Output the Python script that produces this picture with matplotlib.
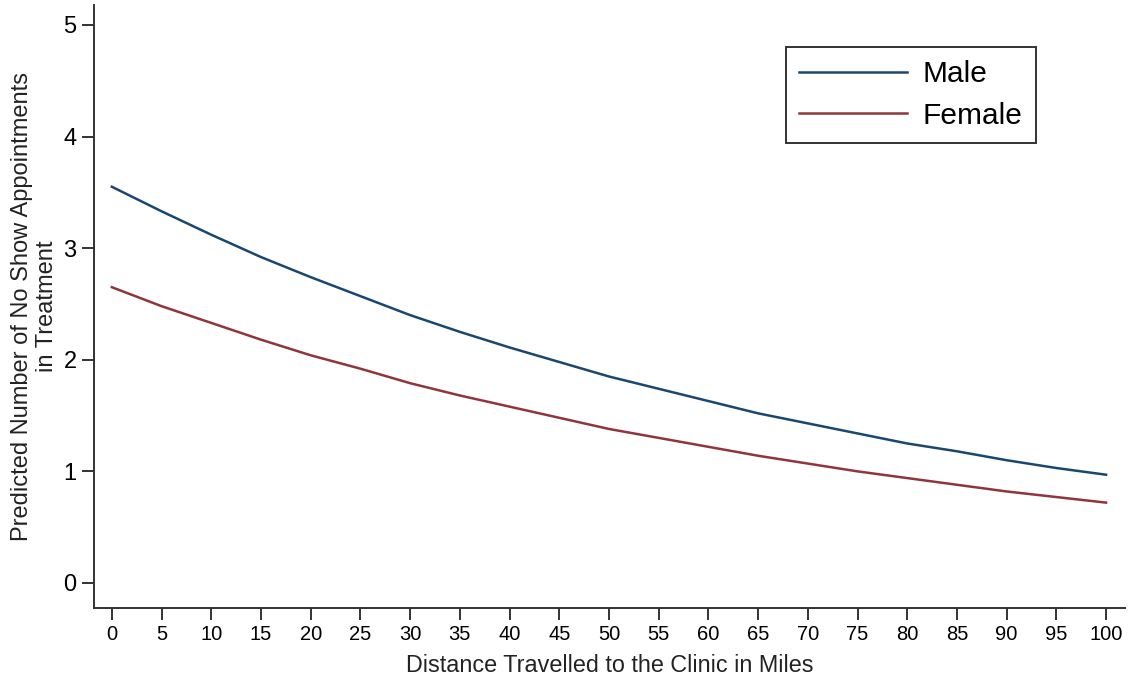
import numpy as np
import matplotlib.pyplot as plt

plt.rcParams['font.family'] = ['Liberation Sans', 'DejaVu Sans']

# Distance (miles) and predicted no-show counts
distance = [0, 5, 10, 15, 20, 25, 30, 35, 40, 45, 50,
            55, 60, 65, 70, 75, 80, 85, 90, 95, 100]
male = [3.55, 3.33, 3.12, 2.92, 2.74, 2.57, 2.40, 2.25, 2.11, 1.98, 1.85,
        1.74, 1.63, 1.52, 1.43, 1.34, 1.25, 1.18, 1.10, 1.03, 0.97]
female = [2.65, 2.48, 2.33, 2.18, 2.04, 1.92, 1.79, 1.68, 1.58, 1.48, 1.38,
          1.30, 1.22, 1.14, 1.07, 1.00, 0.94, 0.88, 0.82, 0.77, 0.72]

fig = plt.figure(figsize=(11.28, 6.87), dpi=100, facecolor='white')
ax = fig.add_axes([0.0833, 0.115, 0.914, 0.878])

ax.plot(distance, male, color='#1a476f', lw=1.8, label='Male')
ax.plot(distance, female, color='#90353b', lw=1.8, label='Female')

ax.set_xlim(-1.8, 101.9)
ax.set_ylim(-0.224, 5.18)
ax.set_xticks(np.arange(0, 101, 5))
ax.set_yticks(range(0, 6))

for s in ['top', 'right']:
    ax.spines[s].set_visible(False)
for s in ['left', 'bottom']:
    ax.spines[s].set_color('#333333')
    ax.spines[s].set_linewidth(1.4)

ax.tick_params(axis='both', direction='out', length=8.5, width=1.4, color='#333333')
ax.tick_params(axis='y', labelsize=17, pad=4)
ax.tick_params(axis='x', labelsize=14.5, pad=4)

ax.set_xlabel('Distance Travelled to the Clinic in Miles', fontsize=16.8, color='#222222', labelpad=7)
ax.set_ylabel('Predicted Number of No Show Appointments\nin Treatment', fontsize=17,
              color='#222222', labelpad=4, linespacing=1.15)

leg = ax.legend(loc='upper right', bbox_to_anchor=(0.914, 0.930), fontsize=21.5,
                handlelength=3.6, handletextpad=0.55, borderpad=0.45,
                borderaxespad=0, fancybox=False, framealpha=1, labelspacing=0.45)
leg.get_frame().set_edgecolor('#333333')
leg.get_frame().set_linewidth(1.4)

fig.savefig('out.png', dpi=100)
